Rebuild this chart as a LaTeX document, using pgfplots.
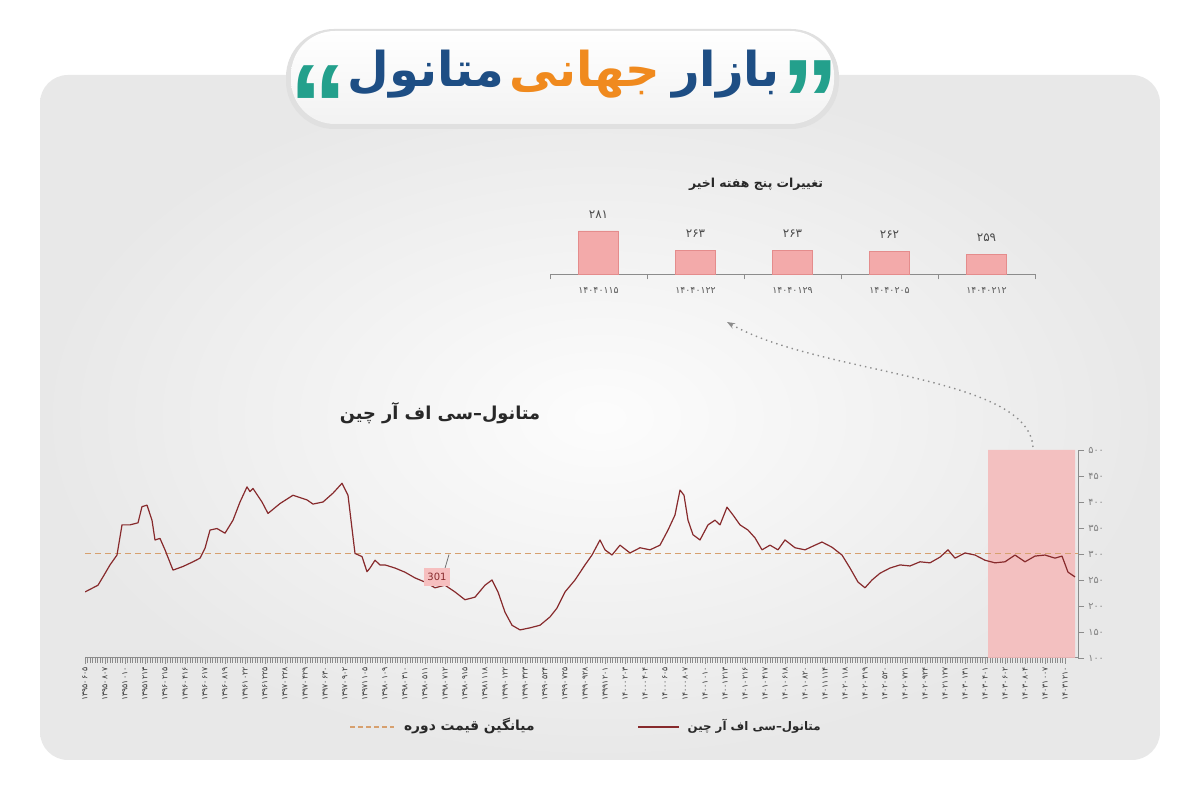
\documentclass[border=0pt]{standalone}
\usepackage{pgfplots}
\pgfplotsset{compat=1.18}
\usepackage{fontspec}
\setmainfont{DejaVu Sans}
\newfontfamily\arabicfont[Script=Arabic]{DejaVu Sans}
\newfontfamily\quotefont{Liberation Sans}
\usetikzlibrary{arrows.meta}
\TeXXeTstate=1
\definecolor{tblue}{RGB}{30,78,132}
\definecolor{torange}{RGB}{240,138,30}
\definecolor{tteal}{RGB}{35,160,140}
\definecolor{mline}{RGB}{135,42,44}
\definecolor{avgc}{RGB}{215,160,110}
\definecolor{pinkbar}{RGB}{243,170,170}
\definecolor{pinkedge}{RGB}{228,140,140}
\definecolor{pinkreg}{RGB}{245,185,185}
\definecolor{txt}{RGB}{40,40,40}
\def\pd#1{\ifcase#1 ۰\or ۱\or ۲\or ۳\or ۴\or ۵\or ۶\or ۷\or ۸\or ۹\fi}
\def\fanum#1{\fanumi#1\relax}
\def\fanumi#1{\ifx#1\relax\else\pd{#1}\expandafter\fanumi\fi}

\pgfplotstableread{
x y
0 227
1.3 240
1.8 256
2.5 279
3.2 298
3.7 356
4.5 356
5.3 360
5.7 391
6.2 394
6.7 365
7.0 327
7.5 330
8.0 308
8.8 269
9.8 276
10.8 285
11.5 292
12.0 311
12.5 346
13.2 349
14.0 340
14.8 365
15.5 400
16.2 429
16.5 420
16.8 426
17.7 400
18.3 378
19.5 397
20.8 413
22.2 404
22.8 396
23.8 400
24.8 417
25.7 436
26.3 413
27.0 301
27.7 295
28.2 266
28.5 273
29.0 288
29.5 279
30.0 279
31.0 273
32.0 265
33.0 254
34.0 246
35.0 235
36.0 240
37.0 227
38.0 212
39.0 217
40.0 240
40.7 250
41.3 227
42.0 188
42.7 163
43.5 154
44.5 158
45.5 163
46.5 179
47.2 196
48.0 227
49.0 250
50.0 279
50.7 298
51.5 327
52.0 308
52.7 298
53.5 317
54.5 302
55.5 312
56.5 308
57.5 317
58.3 346
59.0 375
59.5 423
59.9 413
60.3 365
60.8 337
61.5 327
62.3 356
63.0 365
63.5 356
64.2 390
64.8 375
65.5 356
66.3 346
67.0 331
67.7 308
68.5 317
69.3 308
70.0 327
71.0 312
72.0 308
73.0 317
73.7 323
74.7 313
75.7 298
76.5 273
77.3 246
78.0 235
78.7 250
79.5 263
80.5 273
81.5 279
82.5 277
83.5 285
84.5 283
85.5 294
86.3 308
87.0 292
88.0 302
89.0 298
90.0 288
91.0 283
92.0 285
93.0 298
94.0 285
95.0 296
96.0 298
97.0 292
97.7 296
98.3 265
99.0 256
}\methanol

\begin{document}
\begin{tikzpicture}
\begin{scope}[x=0.5pt,y=-0.5pt]
\useasboundingbox (0,0) rectangle (1200,795);
\fill[white] (0,0) rectangle (1200,795);
\shade[inner color=white!99!black, outer color=white!91!black, rounded corners=14pt] (40,75) rectangle (1160,760);
% title pill
\fill[black!12, rounded corners=24pt] (286,29) rectangle (839,129);
\shade[top color=white, bottom color=white!95!black, rounded corners=22pt] (291,31) rectangle (834,124);
\node[anchor=base, text=tteal, font=\quotefont\bfseries\fontsize{58}{58}\selectfont, inner sep=0pt] at (318,146) {“};
\node[anchor=base, text=tteal, font=\quotefont\bfseries\fontsize{58}{58}\selectfont, inner sep=0pt] at (810,141) {”};
\node[anchor=base, text=tblue, font=\arabicfont\bfseries\fontsize{24}{24}\selectfont, inner sep=0pt] at (726,87) {\beginR بازار\endR};
\node[anchor=base, text=torange, font=\arabicfont\bfseries\fontsize{24}{24}\selectfont, inner sep=0pt] at (585,87) {\beginR جهانی\endR};
\node[anchor=base, text=tblue, font=\arabicfont\bfseries\fontsize{24}{24}\selectfont, inner sep=0pt] at (426,87) {\beginR متانول\endR};
% inset title
\node[anchor=base, font=\arabicfont\bfseries\fontsize{6.2}{7}\selectfont, text=txt, inner sep=0pt] at (756,188) {\beginR تغییرات پنج هفته اخیر\endR};
% main title
\node[anchor=base, font=\arabicfont\bfseries\fontsize{8.9}{10}\selectfont, text=txt, inner sep=0pt] at (440,420) {\beginR متانول–سی اف آر چین\endR};
% arrow
\draw[black!45, dotted, line width=0.7pt, -{Stealth[length=4pt,width=3pt]}] (1033,447) .. controls (1028,375) and (820,375) .. (727,322);
% legend
\draw[mline, line width=0.8pt] (638,727) -- (679,727);
\node[anchor=base east, font=\arabicfont\bfseries\fontsize{5.9}{7}\selectfont, text=txt, inner sep=0pt] at (821,731) {\beginR متانول–سی اف آر چین\endR};
\draw[avgc, dash pattern=on 2.5pt off 1.5pt, line width=0.7pt] (350,727) -- (394,727);
\node[anchor=base east, font=\arabicfont\bfseries\fontsize{6.9}{7}\selectfont, text=txt, inner sep=0pt] at (535,731) {\beginR میانگین قیمت دوره\endR};
\end{scope}

% main chart
\begin{axis}[at={(42.5pt,-329pt)}, anchor=south west, scale only axis,
  width=496.5pt, height=104pt,
  xmin=0, xmax=99.3, ymin=100, ymax=500,
  axis x line*=bottom, axis y line*=right,
  axis line style={draw=black!45, line width=0.5pt},
  tick align=outside,
  xtick={0,2,...,98},
  xticklabels={\fanum{13950605},\fanum{13950807},\fanum{13951010},\fanum{13951213},\fanum{13960215},\fanum{13960416},\fanum{13960617},\fanum{13960819},\fanum{13961022},\fanum{13961225},\fanum{13970228},\fanum{13970429},\fanum{13970630},\fanum{13970902},\fanum{13971105},\fanum{13980109},\fanum{13980310},\fanum{13980511},\fanum{13980712},\fanum{13980915},\fanum{13981118},\fanum{13990122},\fanum{13990323},\fanum{13990524},\fanum{13990725},\fanum{13990928},\fanum{13991201},\fanum{14000203},\fanum{14000404},\fanum{14000605},\fanum{14000807},\fanum{14001010},\fanum{14001213},\fanum{14010216},\fanum{14010417},\fanum{14010618},\fanum{14010820},\fanum{14011114},\fanum{14020118},\fanum{14020319},\fanum{14020520},\fanum{14020721},\fanum{14020924},\fanum{14021127},\fanum{14030131},\fanum{14030401},\fanum{14030602},\fanum{14030804},\fanum{14031007},\fanum{14031210}},
  minor x tick num=7,
  major tick length=3pt, minor tick length=2.5pt,
  every tick/.style={draw=black!45, line width=0.25pt},
  ytick={100,150,...,500},
  yticklabels={\fanum{100},\fanum{150},\fanum{200},\fanum{250},\fanum{300},\fanum{350},\fanum{400},\fanum{450},\fanum{500}},
  xticklabel style={rotate=90, anchor=east, font=\arabicfont\fontsize{3.9}{4}\selectfont, text=black!80, inner sep=1.5pt},
  yticklabel style={font=\arabicfont\fontsize{4.8}{5}\selectfont, text=black!50, inner sep=2pt},
]
\addplot[fill=pinkreg, draw=none, fill opacity=0.85] coordinates {(90.3,100) (90.3,500) (99.0,500) (99.0,100) (90.3,100)};
\addplot[avgc, dash pattern=on 3pt off 2pt, line width=0.6pt] coordinates {(0,301) (99.3,301)};
\addplot[mline, line width=0.6pt, line join=round] table[x=x,y=y] {\methanol};
\draw[black!55, line width=0.4pt] (axis cs:35.9,266) -- (axis cs:36.4,299);
\node[fill=pinkbar!75, text=mline, font=\fontsize{5}{5}\selectfont, inner sep=1.5pt, minimum width=13pt, minimum height=9pt] at (axis cs:35.2,256) {301};
\end{axis}

% inset bar chart
\begin{axis}[at={(275pt,-137.25pt)}, anchor=south west, scale only axis,
  width=242.5pt, height=34.5pt,
  xmin=-0.5, xmax=4.5, ymin=240, ymax=305,
  axis x line*=bottom, axis y line=none,
  axis line style={draw=black!45, line width=0.5pt},
  ybar, bar width=20pt,
  xtick={-0.5,0.5,...,4.5}, xticklabels={},
  tick align=outside, major tick length=2.5pt,
  every tick/.style={draw=black!45, line width=0.4pt},
  extra x ticks={0,1,2,3,4},
  extra x tick labels={\fanum{14040115},\fanum{14040122},\fanum{14040129},\fanum{14040205},\fanum{14040212}},
  extra x tick style={major tick length=0pt, xticklabel style={font=\arabicfont\fontsize{4.7}{5}\selectfont, text=black!65, yshift=-3pt}},
  nodes near coords, point meta=explicit symbolic,
  nodes near coords style={font=\arabicfont\fontsize{6}{6}\selectfont, text=black!70, inner sep=0pt, anchor=south, yshift=6pt},
]
\addplot[fill=pinkbar, draw=pinkedge, line width=0.3pt] coordinates {(0,281)[۲۸۱] (1,263)[۲۶۳] (2,263)[۲۶۳] (3,262)[۲۶۲] (4,259)[۲۵۹]};
\end{axis}
\end{tikzpicture}
\end{document}
